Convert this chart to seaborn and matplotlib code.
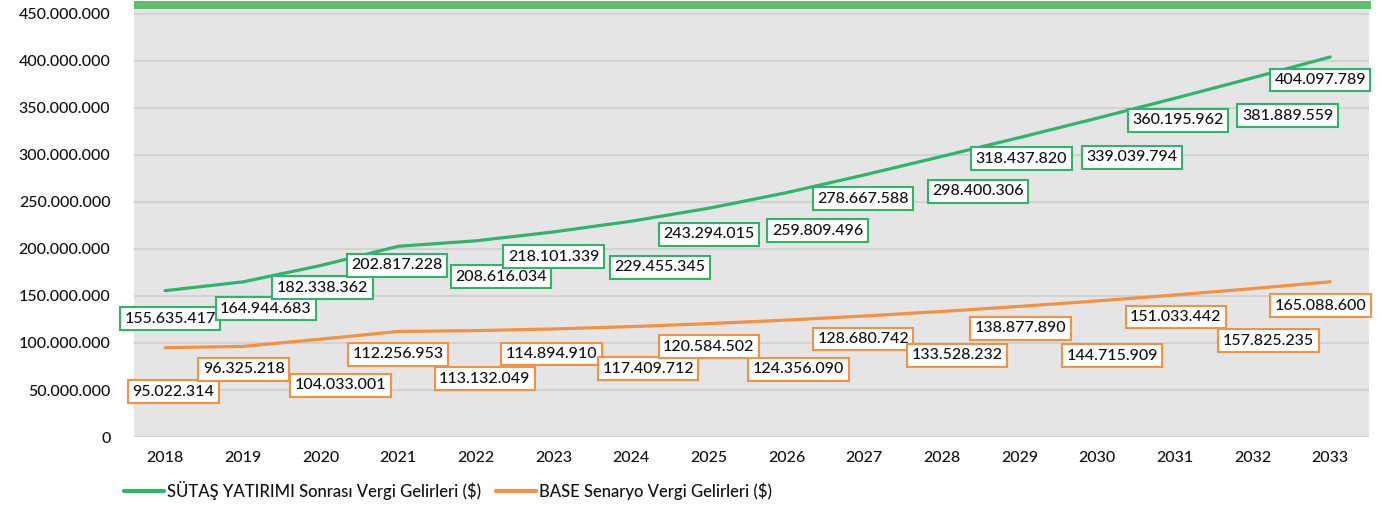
import matplotlib
matplotlib.use('Agg')
from matplotlib import pyplot as plt
from matplotlib.patches import Rectangle
from matplotlib.lines import Line2D
import matplotlib.ticker as mticker
import pandas as pd
import seaborn as sns

years = [str(y) for y in range(2018, 2034)]
sutas = [155635417, 164944683, 182338362, 202817228, 208616034, 218101339,
         229455345, 243294015, 259809496, 278667588, 298400306, 318437820,
         339039794, 360195962, 381889559, 404097789]
base = [95022314, 96325218, 104033001, 112256953, 113132049, 114894910,
        117409712, 120584502, 124356090, 128680742, 133528232, 138877890,
        144715909, 151033442, 157825235, 165088600]
series_names = ['SÜTAŞ YATIRIMI Sonrası Vergi Gelirleri ($)',
                'BASE Senaryo Vergi Gelirleri ($)']

# label offsets in pixels (dx, dy) from each point
sutas_off = [(5, -28), (23, -27), (2, -22), (-1, -19), (25, -36), (0, -25),
             (29, -46), (0, -26), (31, -38), (-1, -24), (36, -35), (2, -21),
             (35, -39), (3, -22), (35, -38), (-10, -23)]
base_off = [(8, -44), (1, -23), (20, -46), (0, -23), (9, -48), (-2, -25),
            (17, -42), (0, -23), (12, -49), (-1, -23), (15, -44), (1, -22),
            (15, -55), (1, -22), (16, -52), (-10, -24)]

green = '#2fb56b'
orange = '#f49142'
grid_c = '#cfd0cf'

df = pd.DataFrame({
    'year': years * 2,
    'value': sutas + base,
    'series': [series_names[0]] * len(years) + [series_names[1]] * len(years),
})

sns.set_theme(style='white')
plt.rcParams['font.family'] = ['Lato', 'DejaVu Sans']
plt.rcParams['font.weight'] = 'medium'
plt.rcParams['text.color'] = '#111111'
plt.rcParams['xtick.color'] = '#111111'
plt.rcParams['ytick.labelcolor'] = '#111111'

fig = plt.figure(figsize=(13.82, 5.07), dpi=100)
ax = fig.add_axes([0.097, 0.138, 0.8936, 0.844])
ax.set_facecolor('#e4e5e4')

sns.lineplot(data=df, x='year', y='value', hue='series', sort=False,
             palette=[green, orange], linewidth=2.3, ax=ax, legend=False)

ax.set_xlim(-0.4, 15.5)
ax.set_ylim(0, 455000000)
ax.yaxis.set_major_locator(mticker.MultipleLocator(50000000))
ax.yaxis.set_major_formatter(mticker.FuncFormatter(lambda v, p: f'{int(v):,}'.replace(',', '.')))
ax.grid(axis='y', color=grid_c, linewidth=1.3)
ax.set_axisbelow(True)
for s in ax.spines.values():
    s.set_visible(False)
ax.tick_params(axis='y', length=7, width=1.3, color=grid_c, pad=10, labelsize=11.5)
ax.tick_params(axis='x', length=0, pad=10, labelsize=11.5)
ax.set_xlabel('')
ax.set_ylabel('')

# green band on top of plot
ax.add_patch(Rectangle((0, 1.0), 1.0015, 0.019, transform=ax.transAxes,
                       facecolor='#5fbd70', edgecolor='none', clip_on=False))

for vals, offs, col in [(sutas, sutas_off, green), (base, base_off, orange)]:
    for i, (v, (dx, dy)) in enumerate(zip(vals, offs)):
        ax.annotate(f'{v:,}'.replace(',', '.'), (i, v), xytext=(dx, dy),
                    textcoords='offset pixels', ha='center', va='center',
                    fontsize=11.5, color='#111111',
                    bbox=dict(boxstyle='square,pad=0.28', facecolor='white',
                              edgecolor=col, linewidth=1.5))

handles = [Line2D([], [], color=green, linewidth=3),
           Line2D([], [], color=orange, linewidth=3)]
fig.legend(handles, series_names, loc='center left', bbox_to_anchor=(0.084, 0.032),
           ncol=2, frameon=False, fontsize=12, handlelength=2.4,
           handletextpad=0.15, columnspacing=0.9, borderpad=0)

fig.savefig('out.png', dpi=100)
